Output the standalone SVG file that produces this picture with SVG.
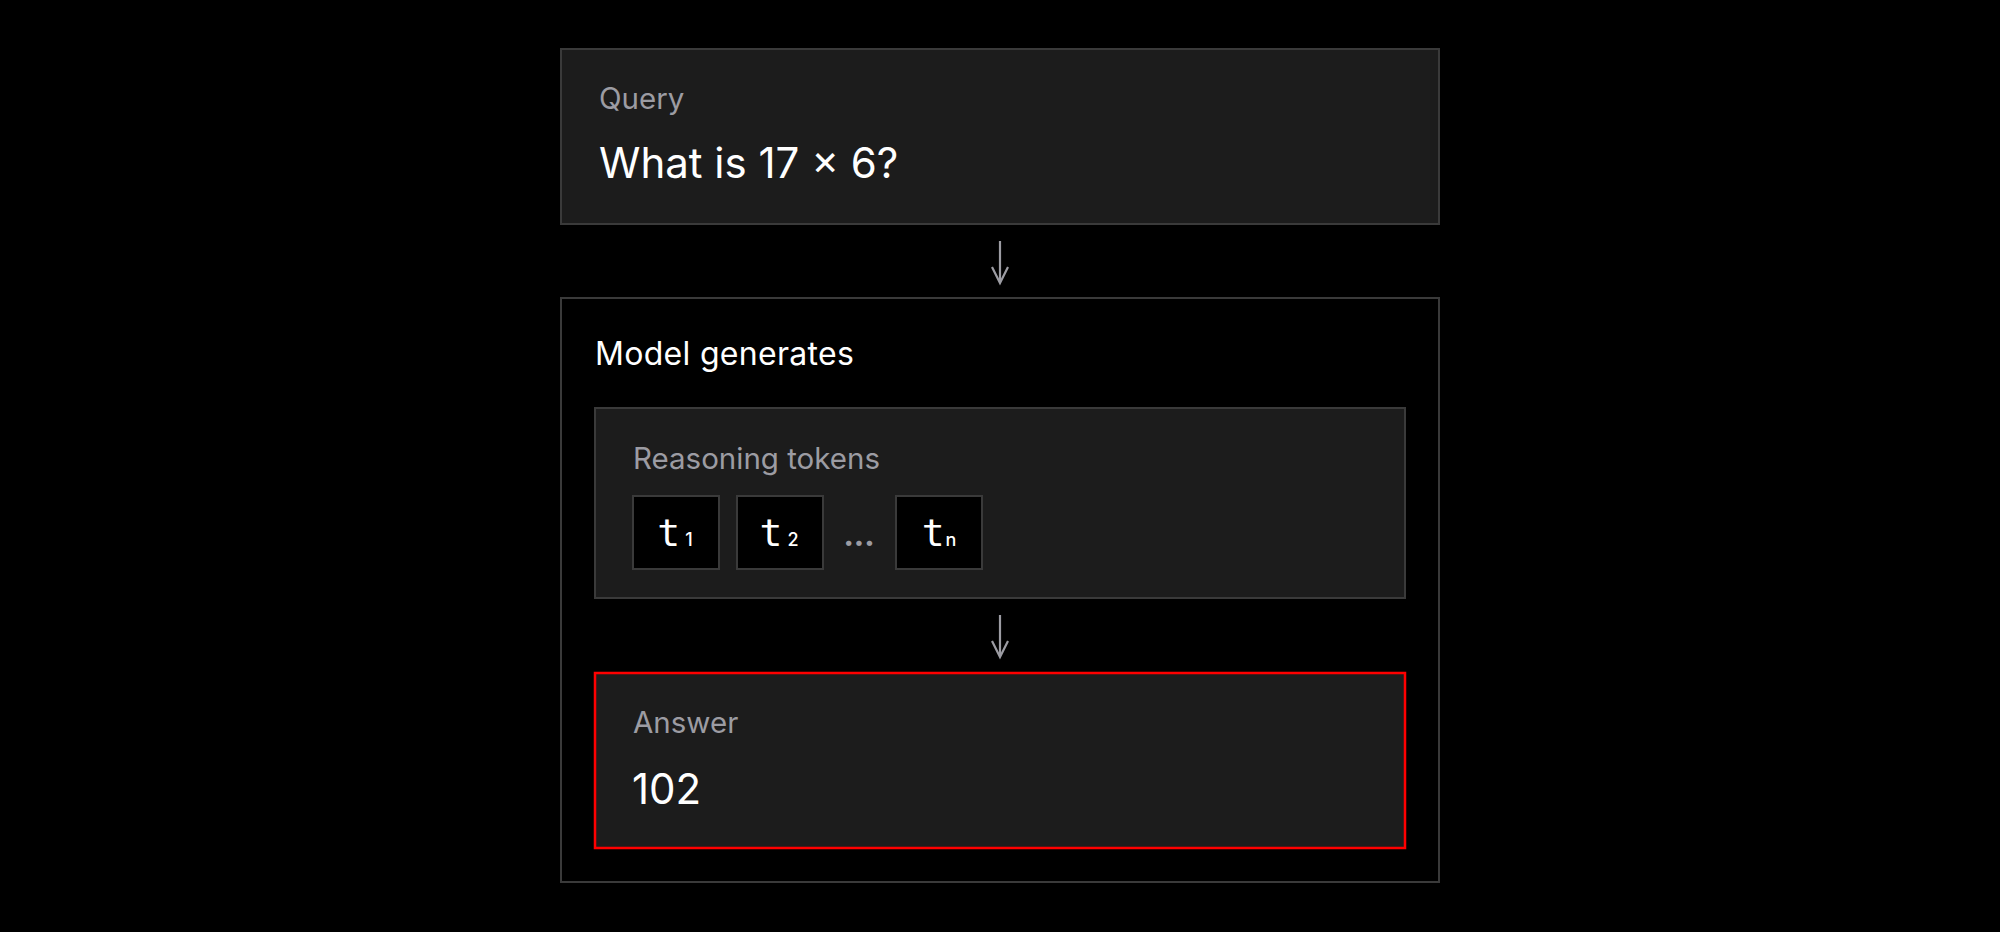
<svg xmlns="http://www.w3.org/2000/svg" width="2000" height="932" viewBox="0 0 2000 932">
  <defs>
    <style>
      .card { fill: #1c1c1c; stroke: #3a3a3a; stroke-width: 2; }
      .outer { fill: #000000; stroke: #3a3a3a; stroke-width: 2; }
      .tok { fill: #000000; stroke: #3a3a3a; stroke-width: 2; }
      .answer { fill: #1c1c1c; stroke: #ff0000; stroke-width: 2.5; }
      .label { font-family: Inter, "Liberation Sans", sans-serif; font-size: 29.5px; fill: #9c9ca3; }
      .title { font-family: Inter, "Liberation Sans", sans-serif; font-size: 32px; letter-spacing: 0.3px; fill: #ffffff; }
      .value { font-family: Inter, "Liberation Sans", sans-serif; font-size: 42px; fill: #ffffff; }
      .mono { font-family: "DejaVu Sans Mono", "Liberation Mono", monospace; font-size: 38px; fill: #ffffff; }
      .sub { font-family: Inter, "Liberation Sans", sans-serif; font-size: 18px; font-weight: 500; fill: #ffffff; }
      .arrow { fill: none; stroke: #9c9ca3; stroke-width: 2.2; stroke-linecap: butt; stroke-linejoin: miter; }
    </style>
  </defs>
  <rect x="0" y="0" width="2000" height="932" fill="#000000"/>

  <g id="query">
    <rect class="card" x="561" y="49" width="878" height="175"/>
    <text class="label" x="599" y="109">Query</text>
    <text class="value" x="599" y="178">What is 17 × 6?</text>
  </g>

  <g id="model">
    <rect class="outer" x="561" y="298" width="878" height="584"/>
    <text class="title" x="595" y="365">Model generates</text>
  </g>

  <g id="reasoning">
    <rect class="card" x="595" y="408" width="810" height="190"/>
    <text class="label" x="633" y="469">Reasoning tokens</text>
  </g>

  <g id="token1">
    <rect class="tok" x="633" y="496" width="86" height="73"/>
    <text class="mono" x="675" y="546" text-anchor="middle">t<tspan class="sub" dx="5">1</tspan></text>
  </g>
  <g id="token2">
    <rect class="tok" x="737" y="496" width="86" height="73"/>
    <text class="mono" x="779" y="546" text-anchor="middle">t<tspan class="sub" dx="5">2</tspan></text>
  </g>
  <g id="ellipsis">
    <text class="label" x="859" y="546" text-anchor="middle" font-size="22" font-weight="800">...</text>
  </g>
  <g id="tokenn">
    <rect class="tok" x="896" y="496" width="86" height="73"/>
    <text class="mono" x="939" y="546" text-anchor="middle">t<tspan class="sub" dx="1">n</tspan></text>
  </g>

  <g id="answer">
    <rect class="answer" x="595" y="673" width="810" height="175"/>
    <text class="label" x="633" y="733">Answer</text>
    <text class="value" x="632" y="804">102</text>
  </g>

  <g id="connectors">
    <path class="arrow" d="M1000 241 V282"/>
    <path class="arrow" d="M992 267 L1000 283 L1008 267"/>
    <path class="arrow" d="M1000 615 V656"/>
    <path class="arrow" d="M992 641 L1000 657 L1008 641"/>
  </g>
</svg>
